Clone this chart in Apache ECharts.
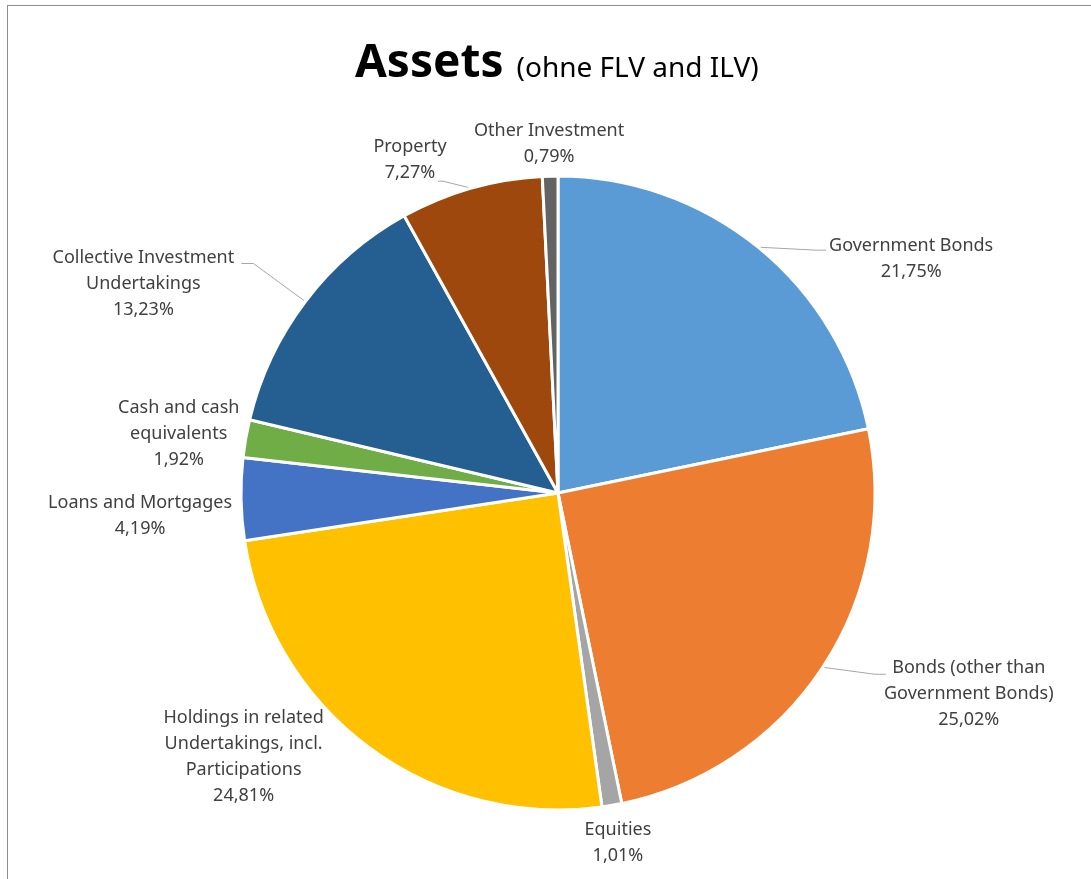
<!DOCTYPE html>
<html>
<head>
<meta charset="utf-8">
<script src="https://cdn.jsdelivr.net/npm/echarts@6/dist/echarts.min.js"></script>
<style>
  html, body { margin: 0; padding: 0; background: #fff; overflow: hidden; }
  #chart {
    position: absolute; left: 7px; top: 5px;
    width: 1084px; height: 874px;
    border-left: 1px solid #8c8c8c; border-top: 1px solid #8c8c8c;
  }
</style>
</head>
<body>
<div id="chart"></div>
<script>
// Werte aus dem Diagramm (Prozent), im Uhrzeigersinn ab 12 Uhr
const categories = [
  'Government Bonds',
  'Bonds (other than\nGovernment Bonds)',
  'Equities',
  'Holdings in related\nUndertakings, incl.\nParticipations',
  'Loans and Mortgages',
  'Cash and cash\nequivalents',
  'Collective Investment\nUndertakings',
  'Property',
  'Other Investment'
];
const shares = [21.75, 25.02, 1.01, 24.81, 4.19, 1.92, 13.23, 7.27, 0.79];
const colors = ['#5b9bd5', '#ed7d31', '#a5a5a5', '#ffc000', '#4472c4', '#70ad47', '#255e91', '#9e480e', '#636363'];

// Label-Platzierung wie in Excel: Versatz der Textmitte zum Randpunkt des Segments
const labelOffsets = [[153, 12], [146, 27], [6, 37], [-125, 10], [-101, 17], [-67, -5], [-162, -18], [-61, -28], [-1, -32]];
// Führungslinien (nur wo Excel sie zeigt): [Knick, Ende] relativ zum Randpunkt
const leaderLines = [[[58, 3], [68, 3]], [[52, 7], [63, 7]], null, null, null, null, [[-52, -38], [-64, -38]], [[-28, -7], [-33, -7]], null];

const CENTER = [550, 487];
const RADIUS = 317;

const total = shares.reduce((s, v) => s + v, 0);
let acc = 0;
const anchors = shares.map(v => {
  const ang = (acc + v / 2) / total * 2 * Math.PI;
  acc += v;
  return [CENTER[0] + RADIUS * Math.sin(ang), CENTER[1] - RADIUS * Math.cos(ang)];
});

const chart = echarts.init(document.getElementById('chart'));

const fmt = v => v.toFixed(2).replace('.', ',') + '%';

const option = {
  animation: false,
  title: {
    text: '{a|Assets} {b|(ohne FLV and ILV)}',
    left: 342,
    top: 30,
    textStyle: {
      rich: {
        a: { fontFamily: 'Noto Sans', fontWeight: 'bold', fontSize: 46, color: '#000' },
        b: { fontFamily: 'Noto Sans', fontWeight: 'normal', fontSize: 28, color: '#000', padding: [10, 0, 0, 8] }
      }
    }
  },
  series: [{
    type: 'pie',
    center: CENTER,
    radius: RADIUS,
    startAngle: 90,
    clockwise: true,
    avoidLabelOverlap: false,
    itemStyle: { borderColor: '#fff', borderWidth: 3 },
    label: {
      show: true,
      position: 'outside',
      fontFamily: 'Noto Sans',
      color: '#404040',
      formatter: p => p.name.split('\n').map(s => '{t|' + s + '}').join('\n') + '\n{t|' + fmt(p.value) + '}',
      rich: {
        t: { fontFamily: 'Noto Sans', fontSize: 18, lineHeight: 26, color: '#404040', align: 'center' }
      }
    },
    labelLine: {
      show: true,
      lineStyle: { color: '#a6a6a6', width: 1 }
    },
    labelLayout: params => {
      const i = params.dataIndex;
      const a = anchors[i];
      const o = labelOffsets[i];
      const res = { x: a[0] + o[0], y: a[1] + o[1], align: 'center', verticalAlign: 'middle' };
      const ln = leaderLines[i];
      if (ln) {
        res.labelLinePoints = [a.slice(), [a[0] + ln[0][0], a[1] + ln[0][1]], [a[0] + ln[1][0], a[1] + ln[1][1]]];
      }
      return res;
    },
    data: shares.map((v, i) => ({
      name: categories[i],
      value: v,
      itemStyle: { color: colors[i] },
      labelLine: { show: !!leaderLines[i] }
    }))
  }]
};

chart.setOption(option);
</script>
</body>
</html>
